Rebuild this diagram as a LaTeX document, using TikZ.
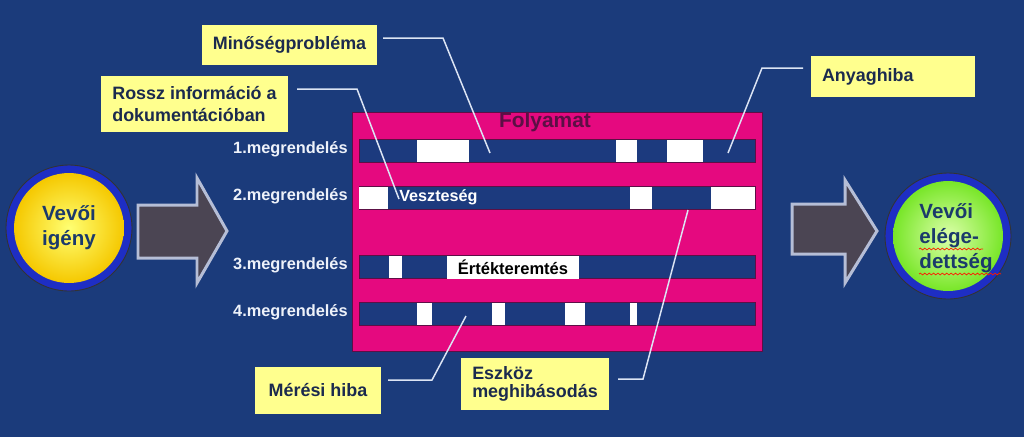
\documentclass[tikz,border=0pt]{standalone}
\usepackage{fontspec}
\setmainfont{Liberation Sans}
\usetikzlibrary{decorations.pathmorphing}

\definecolor{bgblue}{HTML}{1B3B7B}
\definecolor{barblue}{HTML}{1C3A7E}
\definecolor{procpink}{HTML}{E5097F}
\definecolor{titlepurple}{HTML}{5C0F45}
\definecolor{callyellow}{HTML}{FFFF8E}
\definecolor{calltext}{HTML}{1B2A4E}
\definecolor{rowwhite}{HTML}{EEF2FA}
\definecolor{linewhite}{HTML}{DCE4F4}
\definecolor{arrowfill}{HTML}{4B4553}
\definecolor{arrowedge}{HTML}{B6BED6}
\definecolor{ringblue}{HTML}{1E2EC4}
\definecolor{circtext}{HTML}{1B3A6B}

\tikzset{
  callout/.style={fill=callyellow, text=calltext, inner sep=0pt, align=left,
    font=\bfseries\fontsize{10.2}{12.5}\selectfont},
  rowlbl/.style={text=rowwhite, anchor=east, inner sep=0pt,
    font=\bfseries\fontsize{9.3}{11}\selectfont},
  bar/.style={fill=barblue, draw=titlepurple, line width=0.4pt},
  gapbox/.style={fill=white},
  callline/.style={draw=linewhite, line width=0.85pt},
  bigarrow/.style={fill=arrowfill, draw=arrowedge, line width=1.7pt, line join=miter},
  ring/.style={circle, minimum size=2.52cm, inner sep=0pt, fill=ringblue, draw=black!80, line width=0.5pt},
  circlbl/.style={text=circtext, inner sep=0pt, align=left,
    font=\bfseries\fontsize{11.7}{14.2}\selectfont},
  wavy/.style={draw=red!80!orange, line width=0.4pt,
    decorate, decoration={snake, amplitude=0.5pt, segment length=2.5pt}}
}

\begin{document}
\begin{tikzpicture}[x=0.02cm, y=-0.02cm]
  \fill[bgblue] (0,0) rectangle (1024,437);
  \useasboundingbox (0,0) rectangle (1024,437);

  % process block
  \fill[procpink, draw=titlepurple, line width=0.4pt] (352,112) rectangle (762,351);
  \node[text=titlepurple, font=\bfseries\fontsize{11.9}{14}\selectfont] (folyamat) at (545,122.5) {Folyamat};

  \foreach \y/\n in {139/1, 186/2, 255/3, 302/4}{
    \draw[bar] (359,\y) rectangle (755,\y+23.5);
    \node[rowlbl] (row\n) at (348,\y+10) {\n.megrendelés};
  }
  \foreach \a/\b/\y in {417/469/139, 616/637/139, 667/703/139,
                        359/388/186, 630/652/186, 711/755/186,
                        389/402/255,
                        417/432/302, 492/505/302, 565/585/302, 630/637/302}
    \fill[gapbox] (\a,\y+0.5) rectangle (\b,\y+23);

  \node[text=white, anchor=west, inner sep=0pt,
        font=\bfseries\fontsize{9.2}{11}\selectfont] (veszt) at (399,197) {Veszteség};
  \node[fill=white, minimum width=2.64cm, minimum height=0.46cm, inner sep=0pt,
        font=\bfseries\fontsize{9.4}{11}\selectfont] (ertek) at (513,267) {Értékteremtés};

  % customer circles
  \node[ring] (igeny) at (69,228) {};
  \shade[inner color=yellow!55!white, outer color={rgb,255:red,245;green,200;blue,0}] (igeny.center) circle (1.1cm);
  \node[circlbl, align=center] (igenytxt) at (69,228) {Vevői\\igény};

  \node[ring] (eleg) at (948,236) {};
  \shade[inner color={rgb,255:red,220;green,255;blue,170}, outer color={rgb,255:red,120;green,230;blue,40}] (eleg.center) circle (1.1cm);
  \node[circlbl] (elegtxt) at (956,238) {Vevői\\elége-\\dettség};
  \draw[wavy] (919,249) -- (983,249);
  \draw[wavy] (919,274) -- (1001,274);

  % big arrows
  \draw[bigarrow] (138,205) -- (197,205) -- (197,178) -- (227,231)
    -- (197,283) -- (197,258) -- (138,258) -- cycle;
  \draw[bigarrow] (792,204) -- (845,204) -- (845,180) -- (877,231)
    -- (845,283) -- (845,254) -- (792,254) -- cycle;

  % callouts
  \node[callout, minimum width=3.5cm, minimum height=0.8cm] (mino) at (289.5,45) {Minőségprobléma};
  \node[callout, minimum width=3.74cm, minimum height=1.12cm] (rossz) at (194.5,104)
    {Rossz információ a\\dokumentációban};
  \node[callout, minimum width=3.28cm, minimum height=0.82cm, text width=2.84cm] (anyag) at (893,76.5) {Anyaghiba};
  \node[callout, minimum width=2.52cm, minimum height=0.94cm] (meres) at (318,390.5) {Mérési hiba};
  \node[callout, minimum width=2.96cm, minimum height=1.04cm,
        font=\bfseries\fontsize{10.2}{9.8}\selectfont] (eszkoz) at (535,384) {Eszköz\\meghibásodás};

  \coordinate (m0) at (383,38);  \coordinate (m1) at (443,38);  \coordinate (m2) at (490,153);
  \coordinate (r0) at (297,89);  \coordinate (r1) at (357,89);  \coordinate (r2) at (399,199);
  \coordinate (a0) at (803,68);  \coordinate (a1) at (762,68);  \coordinate (a2) at (728,153);
  \coordinate (h0) at (388,380); \coordinate (h1) at (432,380); \coordinate (h2) at (466,316);
  \coordinate (e0) at (618,379); \coordinate (e1) at (643,379); \coordinate (e2) at (688,210);
  \foreach \p in {m, r, a, h, e}
    \draw[callline] (\p0) -- (\p1) -- (\p2);
\end{tikzpicture}
\end{document}
